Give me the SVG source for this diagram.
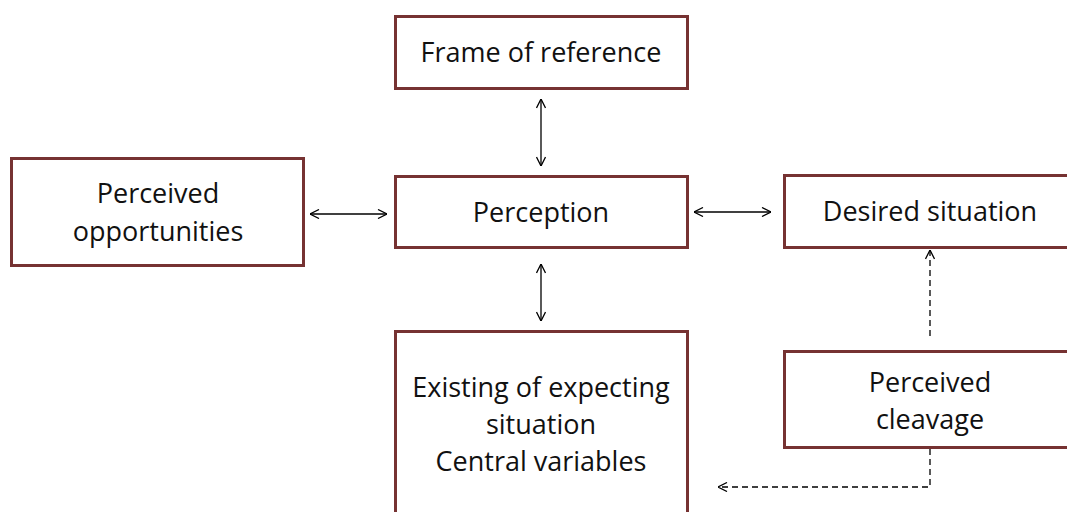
<svg xmlns="http://www.w3.org/2000/svg" width="1067" height="512" viewBox="0 0 1067 512">
<defs>
<style>
.box{fill:#fff;stroke:#763232;stroke-width:3}
.t{font-family:"Open Sans","Liberation Sans",sans-serif;font-size:27px;fill:#111;text-anchor:middle}
.c{fill:none;stroke:#000;stroke-width:1.3}
.d{stroke-dasharray:6 4}
</style>
<marker id="a" viewBox="0 0 10 10" refX="10" refY="5" markerWidth="10" markerHeight="10" markerUnits="userSpaceOnUse" orient="auto-start-reverse">
<path d="M1,0.5 L10,5 L1,9.5" fill="none" stroke="#000" stroke-width="1.3"/>
</marker>
</defs>
<rect width="1067" height="512" fill="#fff"/>
<g id="frame"><rect class="box" x="395.5" y="16.5" width="292" height="72"/><text class="t" x="541" y="62">Frame of reference</text></g>
<g id="perception"><rect class="box" x="395.5" y="176.5" width="292" height="71"/><text class="t" x="541" y="222">Perception</text></g>
<g id="opportunities"><rect class="box" x="11.5" y="158.5" width="292" height="107"/><text class="t" x="158" y="203">Perceived</text><text class="t" x="158" y="241">opportunities</text></g>
<g id="desired"><rect class="box" x="784.5" y="175.5" width="290" height="72"/><text class="t" x="930" y="221">Desired situation</text></g>
<g id="cleavage"><rect class="box" x="784.5" y="351.5" width="290" height="96"/><text class="t" x="930" y="392">Perceived</text><text class="t" x="930" y="429">cleavage</text></g>
<g id="existing"><rect class="box" x="395.5" y="331.5" width="292" height="190"/><text class="t" x="541" y="397">Existing of expecting</text><text class="t" x="541" y="434">situation</text><text class="t" x="541" y="471">Central variables</text></g>
<g id="connectors">
<line class="c" x1="541" y1="99" x2="541" y2="166" marker-start="url(#a)" marker-end="url(#a)"/>
<line class="c" x1="541" y1="264" x2="541" y2="321" marker-start="url(#a)" marker-end="url(#a)"/>
<line class="c" x1="310" y1="214" x2="387" y2="214" marker-start="url(#a)" marker-end="url(#a)"/>
<line class="c" x1="694" y1="212" x2="771" y2="212" marker-start="url(#a)" marker-end="url(#a)"/>
<line class="c d" x1="930" y1="336" x2="930" y2="250" marker-end="url(#a)"/>
<polyline class="c d" points="930,449 930,487 718,487" marker-end="url(#a)"/>
</g>
</svg>
